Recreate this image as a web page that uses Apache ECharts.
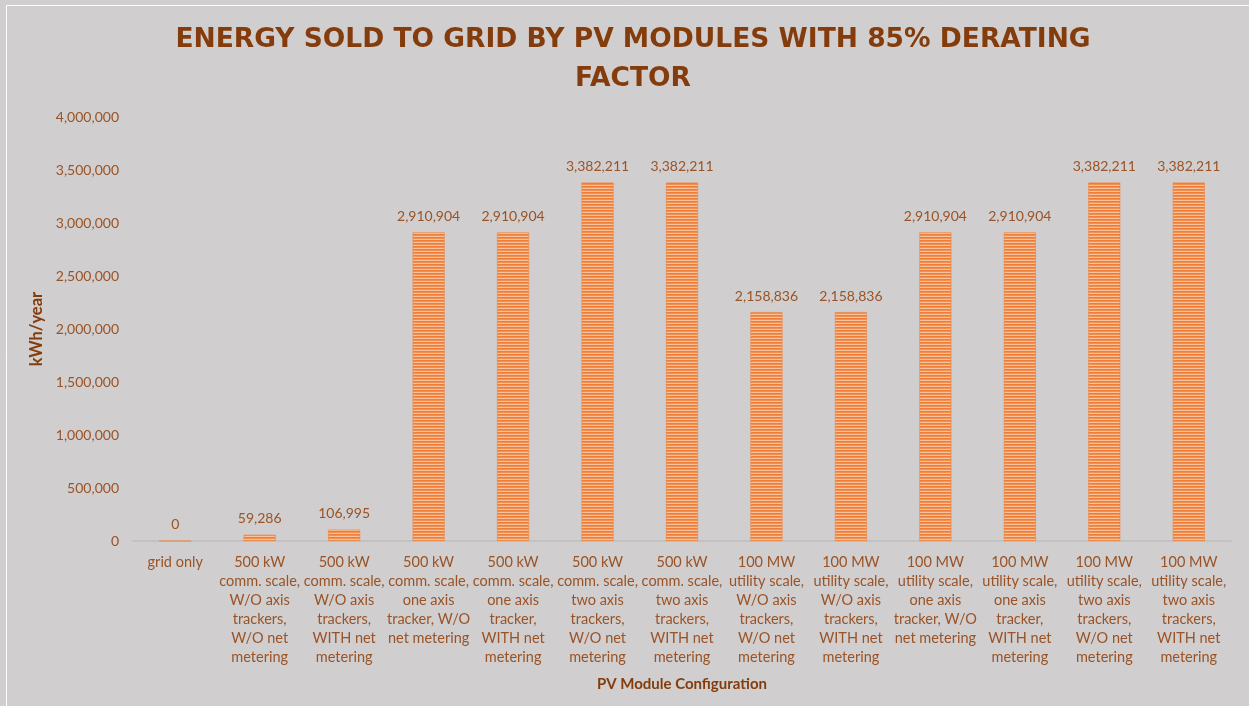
<!DOCTYPE html>
<html>
<head>
<meta charset="utf-8">
<script src="https://cdn.jsdelivr.net/npm/echarts@6/dist/echarts.min.js"></script>
<style>
  html, body { margin: 0; padding: 0; background: #D0CECE; }
  #chart { width: 1249px; height: 706px; }
</style>
</head>
<body>
<div id="chart"></div>
<script>
// Configurations (x-axis categories, wrapped as shown under each bar)
const categories = [
  'grid only',
  '500 kW\ncomm. scale,\nW/O axis\ntrackers,\nW/O net\nmetering',
  '500 kW\ncomm. scale,\nW/O axis\ntrackers,\nWITH net\nmetering',
  '500 kW\ncomm. scale,\none axis\ntracker, W/O\nnet metering',
  '500 kW\ncomm. scale,\none axis\ntracker,\nWITH net\nmetering',
  '500 kW\ncomm. scale,\ntwo axis\ntrackers,\nW/O net\nmetering',
  '500 kW\ncomm. scale,\ntwo axis\ntrackers,\nWITH net\nmetering',
  '100 MW\nutility scale,\nW/O axis\ntrackers,\nW/O net\nmetering',
  '100 MW\nutility scale,\nW/O axis\ntrackers,\nWITH net\nmetering',
  '100 MW\nutility scale,\none axis\ntracker, W/O\nnet metering',
  '100 MW\nutility scale,\none axis\ntracker,\nWITH net\nmetering',
  '100 MW\nutility scale,\ntwo axis\ntrackers,\nW/O net\nmetering',
  '100 MW\nutility scale,\ntwo axis\ntrackers,\nWITH net\nmetering'
];

// Energy sold to grid, kWh/year
const energySold = [
  0, 59286, 106995, 2910904, 2910904, 3382211, 3382211,
  2158836, 2158836, 2910904, 2910904, 3382211, 3382211
];

const yMin = 0;
const yMax = 4000000;
const yStep = 500000;

// Horizontal stripe fill for the bars
function stripePattern() {
  const c = document.createElement('canvas');
  c.width = 4; c.height = 3;
  const g = c.getContext('2d');
  g.fillStyle = '#EE7E36'; g.fillRect(0, 0, 4, 1);
  g.fillStyle = '#F19052'; g.fillRect(0, 1, 4, 1);
  g.fillStyle = '#F8C29E'; g.fillRect(0, 2, 4, 1);
  return c;
}

const fmt = v => Number(v).toLocaleString('en-US');
const labelColor = '#9A5326';
const titleColor = '#843C0C';
const font = 'Lato, "Open Sans", sans-serif';

const chart = echarts.init(document.getElementById('chart'), null, { renderer: 'canvas' });
chart.setOption({
  backgroundColor: '#D0CECE',
  animation: false,
  title: {
    text: 'ENERGY SOLD TO GRID BY PV MODULES WITH 85% DERATING\nFACTOR',
    left: 628,
    textAlign: 'center',
    top: 16,
    textStyle: {
      color: titleColor,
      fontFamily: '"DejaVu Sans", sans-serif',
      fontWeight: 'bold',
      fontSize: 26.5,
      lineHeight: 39
    }
  },
  graphic: [{
    type: 'polyline',
    silent: true,
    shape: { points: [[6.5, 706], [6.5, 5.5], [1249, 5.5]] },
    style: { stroke: '#FFFFFF', lineWidth: 1, fill: null }
  }],
  grid: { left: 133, right: 18, top: 117, bottom: 165, containLabel: false },
  xAxis: {
    type: 'category',
    data: categories,
    name: 'PV Module Configuration',
    nameLocation: 'middle',
    nameGap: 136,
    nameTextStyle: { color: titleColor, fontFamily: font, fontWeight: 'bold', fontSize: 15 },
    axisLine: { lineStyle: { color: '#BFBFBF', width: 1.5 } },
    axisTick: { show: false },
    axisLabel: {
      interval: 0,
      margin: 12,
      color: labelColor,
      fontFamily: font,
      fontSize: 14.5,
      lineHeight: 19
    }
  },
  yAxis: {
    type: 'value',
    min: yMin,
    max: yMax,
    interval: yStep,
    name: 'kWh/year',
    nameLocation: 'middle',
    nameRotate: 90,
    nameGap: 78,
    nameTextStyle: { color: titleColor, fontFamily: font, fontWeight: 'bold', fontSize: 16.5 },
    splitLine: { show: false },
    axisLine: { show: false },
    axisTick: { show: false },
    axisLabel: {
      margin: 14,
      color: labelColor,
      fontFamily: font,
      fontSize: 14,
      formatter: v => fmt(v)
    }
  },
  series: [{
    type: 'bar',
    data: energySold,
    barWidth: 32,
    itemStyle: {
      color: { image: stripePattern(), repeat: 'repeat' },
      borderColor: '#EE8440',
      borderWidth: 0.6
    },
    label: {
      show: true,
      position: 'top',
      distance: 9,
      color: labelColor,
      fontFamily: font,
      fontSize: 14,
      formatter: p => fmt(p.value)
    }
  }]
});
</script>
</body>
</html>
